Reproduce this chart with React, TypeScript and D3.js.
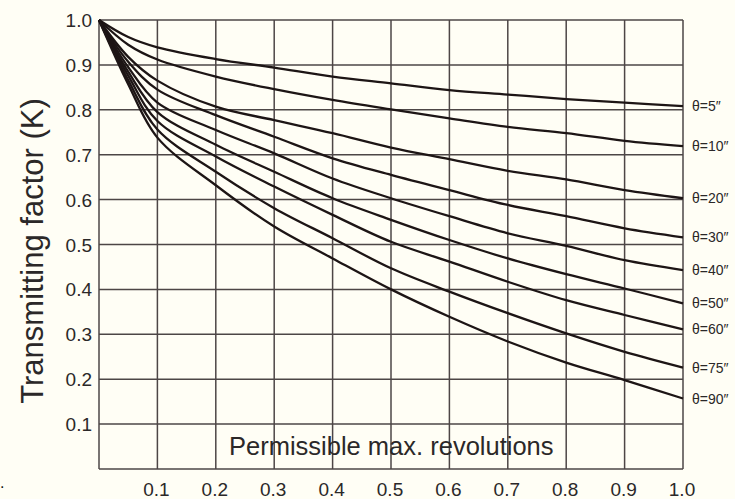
import React, { useEffect, useRef } from "react";
import * as d3 from "d3";

// permissible max. revolutions (ratio)
const revolutions = [0, 0.05, 0.1, 0.2, 0.3, 0.4, 0.5, 0.6, 0.7, 0.8, 0.9, 1.0];

// transmitting factor K for each angle
const theta5 = [1, 0.962, 0.939, 0.913, 0.894, 0.874, 0.859, 0.844, 0.834, 0.824, 0.816, 0.808];
const theta10 = [1, 0.945, 0.912, 0.874, 0.846, 0.822, 0.801, 0.781, 0.762, 0.748, 0.731, 0.719];
const theta20 = [1, 0.918, 0.865, 0.807, 0.777, 0.748, 0.716, 0.69, 0.664, 0.645, 0.621, 0.603];
const theta30 = [1, 0.907, 0.845, 0.788, 0.74, 0.692, 0.655, 0.621, 0.588, 0.563, 0.536, 0.516];
const theta40 = [1, 0.895, 0.816, 0.755, 0.703, 0.647, 0.603, 0.563, 0.525, 0.497, 0.465, 0.443];
const theta50 = [1, 0.885, 0.795, 0.722, 0.662, 0.603, 0.555, 0.51, 0.469, 0.434, 0.402, 0.369];
const theta60 = [1, 0.876, 0.775, 0.696, 0.629, 0.566, 0.506, 0.462, 0.417, 0.376, 0.343, 0.311];
const theta75 = [1, 0.866, 0.756, 0.662, 0.581, 0.514, 0.447, 0.395, 0.347, 0.302, 0.261, 0.226];
const theta90 = [1, 0.857, 0.738, 0.632, 0.54, 0.469, 0.4, 0.339, 0.284, 0.237, 0.198, 0.157];

const seriesLabels = ["θ=5″", "θ=10″", "θ=20″", "θ=30″", "θ=40″", "θ=50″", "θ=60″", "θ=75″", "θ=90″"];
const seriesValues = [theta5, theta10, theta20, theta30, theta40, theta50, theta60, theta75, theta90];

const xTicks = [0.1, 0.2, 0.3, 0.4, 0.5, 0.6, 0.7, 0.8, 0.9, 1.0];
const yTicks = [0.1, 0.2, 0.3, 0.4, 0.5, 0.6, 0.7, 0.8, 0.9, 1.0];

const W = 735, H = 499;
const margin = { top: 20, right: 52, bottom: 30, left: 99 };

export default function App() {
    const ref = useRef<SVGSVGElement>(null);

    useEffect(() => {
        const svg = d3.select(ref.current);
        svg.selectAll("*").remove();

        const font = "'Liberation Sans', Arial, sans-serif";
        const gridColor = "#4d4646";
        const textColor = "#2b2828";

        const x = d3.scaleLinear().domain([0, 1]).range([margin.left, W - margin.right]);
        const y = d3.scaleLinear().domain([0, 1]).range([H - margin.bottom, margin.top]);

        svg.append("rect").attr("width", W).attr("height", H).attr("fill", "#fffef5");

        // grid
        const grid = svg.append("g").attr("stroke", gridColor).attr("stroke-width", 1.5);
        grid.selectAll("line.v")
            .data([0, ...xTicks])
            .join("line")
            .attr("x1", d => x(d)).attr("x2", d => x(d))
            .attr("y1", y(0)).attr("y2", y(1));
        grid.selectAll("line.h")
            .data([0, ...yTicks])
            .join("line")
            .attr("class", "h")
            .attr("x1", x(0)).attr("x2", x(1))
            .attr("y1", d => y(d)).attr("y2", d => y(d));

        // tick labels
        svg.append("g")
            .selectAll("text")
            .data(xTicks)
            .join("text")
            .attr("x", d => x(d) - 1)
            .attr("y", 496)
            .attr("text-anchor", "middle")
            .attr("font-family", font)
            .attr("font-size", 19)
            .attr("fill", textColor)
            .text(d => d.toFixed(1));

        svg.append("g")
            .selectAll("text")
            .data(yTicks)
            .join("text")
            .attr("x", 92)
            .attr("y", d => y(d) + 7)
            .attr("text-anchor", "end")
            .attr("font-family", font)
            .attr("font-size", 19)
            .attr("fill", textColor)
            .text(d => d.toFixed(1));

        // curves
        const line = d3.line<number>()
            .x((d, i) => x(revolutions[i]))
            .y(d => y(d))
            .curve(d3.curveCatmullRom.alpha(0.5));

        svg.append("g")
            .selectAll("path")
            .data(seriesValues)
            .join("path")
            .attr("d", d => line(d))
            .attr("fill", "none")
            .attr("stroke", "#1d1515")
            .attr("stroke-width", 2.3)
            .attr("stroke-linejoin", "round");

        svg.append("g")
            .selectAll("text")
            .data(seriesValues)
            .join("text")
            .attr("x", x(1) + 9)
            .attr("y", d => y(d[d.length - 1]) + 5)
            .attr("font-family", font)
            .attr("font-size", 14)
            .attr("fill", textColor)
            .text((d, i) => seriesLabels[i]);

        // axis titles
        svg.append("text")
            .attr("transform", `translate(43,${251}) rotate(-90)`)
            .attr("text-anchor", "middle")
            .attr("font-family", font)
            .attr("font-size", 31)
            .attr("fill", textColor)
            .text("Transmitting factor (K)");

        svg.append("text")
            .attr("x", 229)
            .attr("y", 455)
            .attr("font-family", font)
            .attr("font-size", 25.5)
            .attr("fill", textColor)
            .text("Permissible max. revolutions");

        svg.append("text")
            .attr("x", 0)
            .attr("y", 488)
            .attr("font-family", font)
            .attr("font-size", 16)
            .attr("fill", "#111")
            .text(".");
    }, []);

    return (
        <div style={{ position: "fixed", left: 0, top: 0, width: W, height: H, background: "#fffef5" }}>
            <svg ref={ref} width={W} height={H} style={{ display: "block" }}></svg>
        </div>
    );
}
